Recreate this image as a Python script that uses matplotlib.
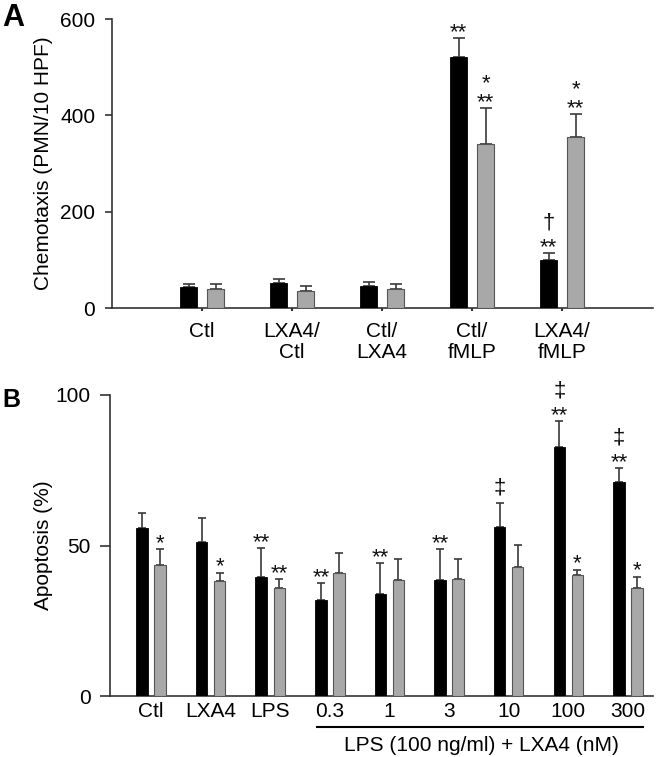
import numpy as np
import matplotlib
matplotlib.use("Agg")
import matplotlib.pyplot as plt
import matplotlib.transforms as mtransforms

plt.rcParams.update({
    "font.family": ["Liberation Sans", "DejaVu Sans"],
    "font.size": 15,
    "axes.linewidth": 1.2,
    "axes.edgecolor": "#333333",
})

# ---- Panel A data: chemotaxis ----
a_groups = ["Ctl", "LXA4/\nCtl", "Ctl/\nLXA4", "Ctl/\nfMLP", "LXA4/\nfMLP"]
a_black = [44, 52, 46, 521, 100]
a_black_err = [6, 8, 8, 39, 14]
a_gray = [39, 35, 39, 340, 355]
a_gray_err = [11, 11, 11, 75, 48]
a_black_sig = [[], [], [], ["**"], ["**", "†"]]
a_gray_sig = [[], [], [], ["**", "*"], ["**", "*"]]

# ---- Panel B data: apoptosis ----
b_groups = ["Ctl", "LXA4", "LPS", "0.3", "1", "3", "10", "100", "300"]
b_black = [55.8, 51.2, 39.5, 32.0, 33.8, 38.4, 56.1, 82.6, 71.0]
b_black_err = [5.0, 7.9, 9.6, 5.5, 10.3, 10.5, 7.9, 8.8, 4.6]
b_gray = [43.4, 38.2, 35.8, 40.8, 38.5, 39.0, 43.0, 40.3, 36.0]
b_gray_err = [5.4, 2.8, 3.0, 6.8, 7.1, 6.4, 7.2, 1.7, 3.7]
b_black_sig = [[], [], ["**"], ["**"], ["**"], ["**"], ["‡"], ["**", "‡"], ["**", "‡"]]
b_gray_sig = [["*"], ["*"], ["**"], [], [], [], [], ["*"], ["*"]]
b_bracket_label = "LPS (100 ng/ml) + LXA4 (nM)"

GRAY = "#a8a8a8"
ERRC = "#3a3a3a"

W, H = 656, 757
fig = plt.figure(figsize=(W / 100, H / 100), dpi=100)


def px_axes(left, top, right, bottom):
    return fig.add_axes([left / W, 1 - bottom / H, (right - left) / W, (bottom - top) / H])


def draw_sig(ax, x, top, marks):
    """Significance marks stacked above an error bar cap, as one text."""
    if not marks:
        return
    dagger_top = marks[-1] in ("†", "‡")
    if len(marks) == 1:
        off = 5 if dagger_top else -5
        spacing = 1.0
    else:
        off = -5
        spacing = 1.23 if dagger_top else 0.86
    ax.annotate("\n".join(reversed(marks)), (x, top), xytext=(0, off),
                textcoords="offset pixels", ha="center", va="bottom",
                fontsize=16, color="#111111", linespacing=spacing,
                multialignment="center")


def bar_panel(ax, groups, black, black_err, gray, gray_err, bsig, gsig,
              width, offset, capsize):
    x = np.arange(len(groups))
    ax.bar(x - offset, black, width, color="black", edgecolor="black", linewidth=0.6,
           zorder=3)
    ax.bar(x + offset, gray, width, color=GRAY, edgecolor="#555555", linewidth=0.8,
           zorder=3)
    ax.errorbar(x - offset, black, yerr=[np.zeros(len(x)), black_err], fmt="none",
                ecolor=ERRC, elinewidth=1.2, capsize=capsize, capthick=1.2, zorder=2)
    ax.errorbar(x + offset, gray, yerr=[np.zeros(len(x)), gray_err], fmt="none",
                ecolor=ERRC, elinewidth=1.2, capsize=capsize, capthick=1.2, zorder=2)
    for i in range(len(x)):
        draw_sig(ax, x[i] - offset, black[i] + black_err[i], bsig[i])
        draw_sig(ax, x[i] + offset, gray[i] + gray_err[i], gsig[i])
    ax.spines["top"].set_visible(False)
    ax.spines["right"].set_visible(False)
    ax.set_xticks(x)
    ax.set_xticklabels(groups)
    return x


# ---- Panel A ----
axA = px_axes(112, 19, 653, 308)
bar_panel(axA, a_groups, a_black, a_black_err, a_gray, a_gray_err,
          a_black_sig, a_gray_sig, width=0.185, offset=0.15, capsize=4.3)
axA.set_xlim(-1.0, 5.01)
axA.set_ylim(0, 600)
axA.set_yticks([0, 200, 400, 600])
axA.tick_params(axis="y", length=5, width=1.2, pad=7, color="#333333")
axA.tick_params(axis="x", length=2, width=1.5, pad=8, color="#333333")
for lbl in axA.get_xticklabels():
    lbl.set_linespacing(1.15)
axA.set_ylabel("Chemotaxis (PMN/10 HPF)", labelpad=5)
fig.text(2 / W, 1 - 3 / H, "A", fontsize=22, fontweight="bold", ha="left", va="top")

# ---- Panel B ----
axB = px_axes(110, 395, 653, 696)
bar_panel(axB, b_groups, b_black, b_black_err, b_gray, b_gray_err,
          b_black_sig, b_gray_sig, width=0.193, offset=0.151, capsize=3.2)
axB.set_xlim(-0.688, 8.42)
axB.set_ylim(0, 100)
axB.set_yticks([0, 50, 100])
axB.tick_params(axis="y", length=7, width=1.2, pad=7, color="#333333")
axB.tick_params(axis="x", length=0, pad=4)
axB.set_ylabel("Apoptosis (%)", labelpad=2)
fig.text(2 / W, 1 - 388 / H, "B", fontsize=18, fontweight="bold", ha="left", va="top")

# bracket under the LPS + LXA4 dose groups
trans = mtransforms.blended_transform_factory(axB.transData, axB.transAxes)
axB.plot([2.785, 8.255], [-0.103, -0.103], color="black", lw=1.5,
         transform=trans, clip_on=False)
axB.text(5.55, -0.166, b_bracket_label, transform=trans, ha="center", va="center",
         fontsize=15)

fig.savefig("out.png", dpi=100)
